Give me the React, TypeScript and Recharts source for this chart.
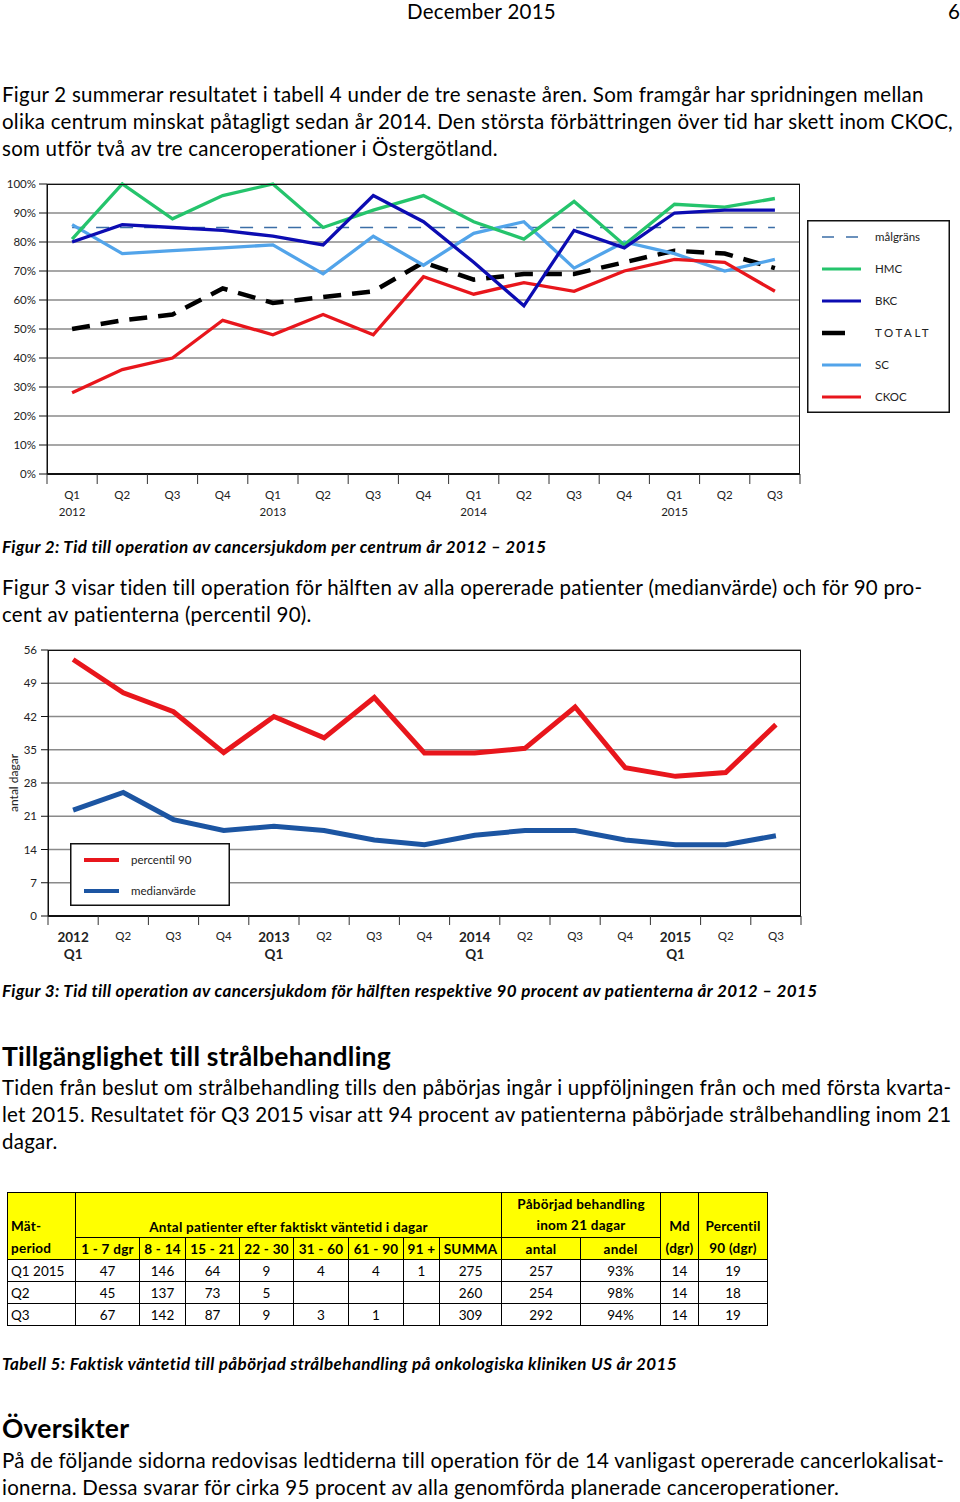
import React from 'react';
import { LineChart, Line, XAxis, YAxis, CartesianGrid, ReferenceLine, Legend } from 'recharts';

const FONT = 'Lato, "Open Sans", sans-serif';

// categories (quarters 2012 Q1 – 2015 Q3)
const quarters = [
  '2012Q1', '2012Q2', '2012Q3', '2012Q4',
  '2013Q1', '2013Q2', '2013Q3', '2013Q4',
  '2014Q1', '2014Q2', '2014Q3', '2014Q4',
  '2015Q1', '2015Q2', '2015Q3',
];
const quarterLabels = ['Q1', 'Q2', 'Q3', 'Q4', 'Q1', 'Q2', 'Q3', 'Q4', 'Q1', 'Q2', 'Q3', 'Q4', 'Q1', 'Q2', 'Q3'];
const yearLabels = ['2012', '', '', '', '2013', '', '', '', '2014', '', '', '', '2015', '', ''];

// Figur 2: share operated within target, per centre (%)
const hmc = [81, 100, 88, 96, 100, 85, 91, 96, 87, 81, 94, 79, 93, 92, 95];
const bkc = [80, 86, 85, 84, 82, 79, 96, 87, 73, 58, 84, 78, 90, 91, 91];
const totalt = [50, 53, 55, 64, 59, 61, 63, 73, 67, 69, 69, 73, 77, 76, 71];
const sc = [86, 76, 77, 78, 79, 69, 82, 72, 83, 87, 71, 80, 76, 70, 74];
const ckoc = [28, 36, 40, 53, 48, 55, 48, 68, 62, 66, 63, 70, 74, 73, 63];
const malgrans = 85;
const percentTicks = [0, 10, 20, 30, 40, 50, 60, 70, 80, 90, 100];

// Figur 3: days to operation
const percentil90 = [54, 47, 43, 34.4, 42, 37.5, 46, 34.3, 34.3, 35.3, 44, 31.2, 29.4, 30.2, 40.3];
const medianvarde = [22.3, 26, 20.3, 18, 18.9, 18, 16, 15, 17, 18, 18, 16, 15, 15, 16.9];
const dayTicks = [0, 7, 14, 21, 28, 35, 42, 49, 56];

// Tabell 5
const waitBuckets = ['1 - 7 dgr', '8 - 14', '15 - 21', '22 - 30', '31 - 60', '61 - 90', '91 +', 'SUMMA'];
const periods = ['Q1 2015', 'Q2', 'Q3'];
const waitCounts = [
  ['47', '146', '64', '9', '4', '4', '1', '275'],
  ['45', '137', '73', '5', '', '', '', '260'],
  ['67', '142', '87', '9', '3', '1', '', '309'],
];
const startedCount = ['257', '254', '292'];
const startedShare = ['93%', '98%', '94%'];
const mdDays = ['14', '14', '14'];
const p90Days = ['19', '18', '19'];

const opData = quarters.map((q, i) => ({
  q, hmc: hmc[i], bkc: bkc[i], totalt: totalt[i], sc: sc[i], ckoc: ckoc[i],
}));
const dayData = quarters.map((q, i) => ({ q, p90: percentil90[i], median: medianvarde[i] }));

const GREEN = '#25c46c';
const NAVY = '#0c0cb2';
const SKY = '#52a4ea';
const RED = '#e8161c';
const TARGET = '#3b6ea6';

const BAND1 = (800 - 47) / 15;
const BAND2 = (801 - 48) / 15;

const legend1 = [
  { label: 'målgräns', color: TARGET, dash: '12 12', w: 1.6, x2: 54 },
  { label: 'HMC', color: GREEN, w: 3, x2: 54 },
  { label: 'BKC', color: NAVY, w: 3, x2: 54 },
  { label: 'TOTALT', color: '#000', w: 4.5, x2: 38, spaced: true },
  { label: 'SC', color: SKY, w: 3, x2: 54 },
  { label: 'CKOC', color: RED, w: 3, x2: 54 },
];

const Legend1 = () => (
  <svg width={143} height={193} style={{ display: 'block' }}>
    <rect x={0.75} y={0.75} width={141.5} height={191.5} fill="#fff" stroke="#111" strokeWidth={1.5} />
    {legend1.map((it, i) => (
      <g key={it.label}>
        <line x1={15} x2={it.x2} y1={17 + i * 32} y2={17 + i * 32} stroke={it.color} strokeWidth={it.w} strokeDasharray={it.dash} />
        <text x={68} y={17 + i * 32} dy="0.35em" fontSize={11.5} fill="#222" fontFamily={FONT} letterSpacing={it.spaced ? 2.6 : 0}>
          {it.label}
        </text>
      </g>
    ))}
  </svg>
);

const Legend2 = () => (
  <svg width={160} height={63} style={{ display: 'block' }}>
    <rect x={0.75} y={0.75} width={158.5} height={61.5} fill="#fff" stroke="#111" strokeWidth={1.5} />
    <line x1={14} x2={49} y1={17} y2={17} stroke={RED} strokeWidth={4} />
    <text x={61} y={17} dy="0.35em" fontSize={11.5} fill="#222" fontFamily={FONT}>percentil 90</text>
    <line x1={14} x2={49} y1={48} y2={48} stroke="#1c55a2" strokeWidth={4} />
    <text x={61} y={48} dy="0.35em" fontSize={11.5} fill="#222" fontFamily={FONT}>medianvärde</text>
  </svg>
);

const Tick1 = (props: any) => {
  const { x, y, index } = props;
  return (
    <g>
      <line x1={x - BAND1 / 2} x2={x - BAND1 / 2} y1={y} y2={y + 10} stroke="#333" strokeWidth={1} />
      {index === quarters.length - 1 && (
        <line x1={x + BAND1 / 2} x2={x + BAND1 / 2} y1={y} y2={y + 10} stroke="#333" strokeWidth={1} />
      )}
      <text x={x} y={y + 21} dy="0.35em" textAnchor="middle" fontSize={11.5} fill="#222" fontFamily={FONT}>
        {quarterLabels[index]}
      </text>
      {yearLabels[index] && (
        <text x={x} y={y + 38} dy="0.35em" textAnchor="middle" fontSize={11.5} fill="#222" fontFamily={FONT}>
          {yearLabels[index]}
        </text>
      )}
    </g>
  );
};

const Tick2 = (props: any) => {
  const { x, y, index } = props;
  const isYear = !!yearLabels[index];
  return (
    <g>
      <line x1={x - BAND2 / 2} x2={x - BAND2 / 2} y1={y} y2={y + 9} stroke="#333" strokeWidth={1} />
      {index === quarters.length - 1 && (
        <line x1={x + BAND2 / 2} x2={x + BAND2 / 2} y1={y} y2={y + 9} stroke="#333" strokeWidth={1} />
      )}
      {isYear ? (
        <>
          <text x={x} y={y + 21} dy="0.35em" textAnchor="middle" fontSize={13.5} fontWeight="bold" fill="#222" fontFamily={FONT}>
            {yearLabels[index]}
          </text>
          <text x={x} y={y + 38} dy="0.35em" textAnchor="middle" fontSize={13.5} fontWeight="bold" fill="#222" fontFamily={FONT}>
            {quarterLabels[index]}
          </text>
        </>
      ) : (
        <text x={x} y={y + 20} dy="0.35em" textAnchor="middle" fontSize={11.5} fill="#222" fontFamily={FONT}>
          {quarterLabels[index]}
        </text>
      )}
    </g>
  );
};

const Txt = ({ y, x = 2, size = 20.5, ls = 0.25, bold = false, italic = false, children }: any) => (
  <div
    style={{
      position: 'absolute', left: x, top: y - size * 0.62, fontSize: size, lineHeight: `${size * 1.2}px`,
      letterSpacing: ls, whiteSpace: 'nowrap', fontWeight: bold ? 700 : 400, fontStyle: italic ? 'italic' : 'normal', color: '#000',
    }}
  >
    {children}
  </div>
);

const cell: React.CSSProperties = { border: '1px solid #000', padding: '0 3px', textAlign: 'center', height: 21, overflow: 'hidden', whiteSpace: 'nowrap' };
const head: React.CSSProperties = { ...cell, background: '#ffff00', fontWeight: 700, letterSpacing: 0.25 };
const colWidths = [68, 64, 46, 54, 54, 55, 55, 36, 62, 79, 80, 38, 69];

const App = () => (
  <div style={{ position: 'absolute', left: 0, top: 0, width: 960, height: 1502, background: '#fff', fontFamily: FONT, overflow: 'hidden' }}>
    <Txt y={12} x={407}>December 2015</Txt>
    <Txt y={12} x={948}>6</Txt>

    <Txt y={95}>Figur 2 summerar resultatet i tabell 4 under de tre senaste åren. Som framgår har spridningen mellan</Txt>
    <Txt y={122}>olika centrum minskat påtagligt sedan år 2014. Den största förbättringen över tid har skett inom CKOC,</Txt>
    <Txt y={149}>som utför två av tre canceroperationer i Östergötland.</Txt>

    <div style={{ position: 'absolute', left: 0, top: 170 }}>
      <LineChart width={960} height={360} data={opData} margin={{ top: 14, right: 160, bottom: 6, left: 0 }}>
        <CartesianGrid vertical={false} stroke="#8a8a8a" strokeWidth={1.3} />
        <XAxis
          dataKey="q" interval={0} height={50} tickSize={0} tickMargin={0}
          padding={{ left: BAND1 / 2, right: BAND1 / 2 }}
          axisLine={{ stroke: '#111', strokeWidth: 2 }} tick={Tick1}
        />
        <YAxis
          domain={[0, 100]} ticks={percentTicks} width={47} tickSize={8} tickMargin={3}
          tickFormatter={(v) => `${v}%`}
          tick={{ fontSize: 11.5, fill: '#222', fontFamily: FONT }}
          axisLine={{ stroke: '#111' }} tickLine={{ stroke: '#111' }}
        />
        <ReferenceLine
          segment={[{ x: quarters[0], y: malgrans }, { x: quarters[quarters.length - 1], y: malgrans }]}
          stroke={TARGET} strokeDasharray="13 11" strokeWidth={1.5}
        />
        <Line type="linear" dataKey="totalt" stroke="#000" strokeWidth={4.5} strokeDasharray="18 11" dot={false} isAnimationActive={false} />
        <Line type="linear" dataKey="sc" stroke={SKY} strokeWidth={3.3} dot={false} isAnimationActive={false} />
        <Line type="linear" dataKey="ckoc" stroke={RED} strokeWidth={3.3} dot={false} isAnimationActive={false} />
        <Line type="linear" dataKey="hmc" stroke={GREEN} strokeWidth={3.3} dot={false} isAnimationActive={false} />
        <Line type="linear" dataKey="bkc" stroke={NAVY} strokeWidth={3.3} dot={false} isAnimationActive={false} />
        <Legend layout="vertical" align="center" verticalAlign="middle" wrapperStyle={{ left: 807, top: 50, width: 143, height: 193 }} content={() => <Legend1 />} />
      </LineChart>
      <div style={{ position: 'absolute', left: 47, top: 14, width: 753, height: 290, border: '1.3px solid #111', boxSizing: 'border-box', pointerEvents: 'none' }} />
    </div>

    <Txt y={548} size={17} ls={0.4} bold italic>Figur 2: Tid till operation av cancersjukdom per centrum år 2012 – 2015</Txt>

    <Txt y={588}>Figur 3 visar tiden till operation för hälften av alla opererade patienter (medianvärde) och för 90 pro-</Txt>
    <Txt y={615}>cent av patienterna (percentil 90).</Txt>

    <div style={{ position: 'absolute', left: 0, top: 640 }}>
      <LineChart width={810} height={330} data={dayData} margin={{ top: 10, right: 9, bottom: 4, left: 0 }}>
        <CartesianGrid vertical={false} stroke="#8a8a8a" strokeWidth={1.3} />
        <XAxis
          dataKey="q" interval={0} height={50} tickSize={0} tickMargin={0}
          padding={{ left: BAND2 / 2, right: BAND2 / 2 }}
          axisLine={{ stroke: '#111', strokeWidth: 2 }} tick={Tick2}
        />
        <YAxis
          domain={[0, 56]} ticks={dayTicks} width={48} tickSize={7} tickMargin={4}
          tick={{ fontSize: 11.5, fill: '#222', fontFamily: FONT }}
          axisLine={{ stroke: '#111' }} tickLine={{ stroke: '#111' }}
          label={{
            content: (p: any) => {
              const vb = p.viewBox || {};
              const cx = (vb.x || 0) + 14;
              const cy = (vb.y || 0) + (vb.height || 0) / 2;
              return (
                <text x={cx} y={cy} transform={`rotate(-90 ${cx} ${cy})`} textAnchor="middle" dy="0.35em" fontSize={12} fill="#222" fontFamily={FONT}>
                  antal dagar
                </text>
              );
            },
          }}
        />
        <Line type="linear" dataKey="p90" stroke={RED} strokeWidth={5} dot={false} isAnimationActive={false} />
        <Line type="linear" dataKey="median" stroke="#1c55a2" strokeWidth={5} dot={false} isAnimationActive={false} />
        <Legend layout="vertical" align="center" verticalAlign="middle" wrapperStyle={{ left: 70, top: 203, width: 160, height: 63 }} content={() => <Legend2 />} />
      </LineChart>
      <div style={{ position: 'absolute', left: 48, top: 10, width: 753, height: 266, border: '1.3px solid #111', boxSizing: 'border-box', pointerEvents: 'none' }} />
    </div>

    <Txt y={992} size={17} ls={0.4} bold italic>Figur 3: Tid till operation av cancersjukdom för hälften respektive 90 procent av patienterna år 2012 – 2015</Txt>

    <Txt y={1057} size={26.5} ls={0.2} bold>Tillgänglighet till strålbehandling</Txt>
    <Txt y={1088}>Tiden från beslut om strålbehandling tills den påbörjas ingår i uppföljningen från och med första kvarta-</Txt>
    <Txt y={1115}>let 2015. Resultatet för Q3 2015 visar att 94 procent av patienterna påbörjade strålbehandling inom 21</Txt>
    <Txt y={1142}>dagar.</Txt>

    <table
      style={{
        position: 'absolute', left: 7, top: 1192, borderCollapse: 'collapse', tableLayout: 'fixed',
        width: colWidths.reduce((a, b) => a + b, 0), fontSize: 13.5, fontFamily: FONT, color: '#000', border: '1.5px solid #000',
      }}
    >
      <colgroup>
        {colWidths.map((w, i) => <col key={i} style={{ width: w }} />)}
      </colgroup>
      <tbody>
        <tr>
          <td rowSpan={2} style={{ ...head, textAlign: 'left', verticalAlign: 'bottom', lineHeight: '22px' }}>Mät-<br />period</td>
          <td colSpan={8} style={{ ...head, height: 42, verticalAlign: 'bottom', paddingBottom: 2 }}>Antal patienter efter faktiskt väntetid i dagar</td>
          <td colSpan={2} style={{ ...head, height: 42, lineHeight: '21px' }}>Påbörjad behandling<br />inom 21 dagar</td>
          <td rowSpan={2} style={{ ...head, verticalAlign: 'bottom', lineHeight: '22px' }}>Md<br />(dgr)</td>
          <td rowSpan={2} style={{ ...head, verticalAlign: 'bottom', lineHeight: '22px' }}>Percentil<br />90 (dgr)</td>
        </tr>
        <tr>
          {waitBuckets.map((b) => <td key={b} style={head}>{b}</td>)}
          <td style={head}>antal</td>
          <td style={head}>andel</td>
        </tr>
        {periods.map((p, r) => (
          <tr key={p}>
            <td style={{ ...cell, textAlign: 'left' }}>{p}</td>
            {waitCounts[r].map((v, c) => <td key={c} style={cell}>{v}</td>)}
            <td style={cell}>{startedCount[r]}</td>
            <td style={cell}>{startedShare[r]}</td>
            <td style={cell}>{mdDays[r]}</td>
            <td style={cell}>{p90Days[r]}</td>
          </tr>
        ))}
      </tbody>
    </table>

    <Txt y={1365} size={17} ls={0.4} bold italic>Tabell 5: Faktisk väntetid till påbörjad strålbehandling på onkologiska kliniken US år 2015</Txt>

    <Txt y={1429} size={26.5} ls={0.2} bold>Översikter</Txt>
    <Txt y={1461}>På de följande sidorna redovisas ledtiderna till operation för de 14 vanligast opererade cancerlokalisat-</Txt>
    <Txt y={1488}>ionerna. Dessa svarar för cirka 95 procent av alla genomförda planerade canceroperationer.</Txt>
  </div>
);

export default App;
